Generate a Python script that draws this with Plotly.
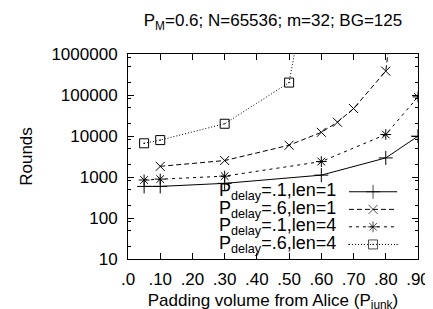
import plotly.graph_objects as go

# ---- data ----
x_p1_len1 = [0.05, 0.10, 0.30, 0.60, 0.80, 0.90]
y_p1_len1 = [590, 590, 700, 1110, 2920, 9900]

x_p6_len1 = [0.10, 0.30, 0.50, 0.60, 0.65, 0.70, 0.80, 0.90]
y_p6_len1 = [1820, 2520, 5960, 12300, 21700, 46700, 382000, 1e12]

x_p1_len4 = [0.05, 0.10, 0.30, 0.60, 0.80, 0.90]
y_p1_len4 = [845, 890, 1050, 2380, 10900, 90000]

x_p6_len4 = [0.05, 0.10, 0.30, 0.50, 0.60]
y_p6_len4 = [6640, 7950, 19900, 201000, 4e9]

series_names = [
    "P<sub>delay</sub>=.1,len=1",
    "P<sub>delay</sub>=.6,len=1",
    "P<sub>delay</sub>=.1,len=4",
    "P<sub>delay</sub>=.6,len=4",
]

x_tick_vals = [0.0, 0.1, 0.2, 0.3, 0.4, 0.5, 0.6, 0.7, 0.8, 0.9]
x_tick_text = [".0", ".10", ".20", ".30", ".40", ".50", ".60", ".70", ".80", ".90"]
y_tick_vals = [10, 100, 1000, 10000, 100000, 1000000]
y_tick_text = ["10", "100", "1000", "10000", "100000", "1000000"]

title_text = "P<sub>M</sub>=0.6; N=65536; m=32; BG=125"
x_title = "Padding volume from Alice (P<sub>junk</sub>)"
y_title = "Rounds"

# ---- styles ----
FONT = "Liberation Sans, Arial, Helvetica, sans-serif"
styles = [
    dict(dash="solid", symbol="cross-thin-open", size=10),
    dict(dash="5px,3px", symbol="x-thin-open", size=9),
    dict(dash="3px,4px", symbol="asterisk-open", size=9),
    dict(dash="1px,2px", symbol="square-open-dot", size=9),
]
data = [
    (x_p1_len1, y_p1_len1),
    (x_p6_len1, y_p6_len1),
    (x_p1_len4, y_p1_len4),
    (x_p6_len4, y_p6_len4),
]

fig = go.Figure()
for (xs, ys), st, name in zip(data, styles, series_names):
    fig.add_trace(go.Scatter(
        x=xs, y=ys, mode="lines+markers", name=name, showlegend=False,
        line=dict(color="black", width=1, dash=st["dash"]),
        marker=dict(symbol=st["symbol"], size=st["size"], color="black",
                    line=dict(color="black", width=1)),
        cliponaxis=True,
    ))

# ---- custom legend (text left, sample right, as in reference) ----
leg_rows = [0.328, 0.242, 0.157, 0.071]
for row, st, name in zip(leg_rows, styles, series_names):
    fig.add_trace(go.Scatter(
        x=[0.762, 0.845, 0.928], y=[row, row, row], mode="lines+markers",
        xaxis="x2", yaxis="y2", showlegend=False, hoverinfo="skip",
        line=dict(color="black", width=1, dash=st["dash"]),
        marker=dict(symbol=st["symbol"], size=[0, st["size"], 0], color="black",
                    line=dict(color="black", width=1)),
    ))
    fig.add_annotation(
        text=name, xref="paper", yref="paper", x=0.7226, y=row,
        xanchor="right", yanchor="middle", showarrow=False,
        font=dict(family=FONT, size=18, color="black"),
    )

axis_common = dict(
    showline=True, linecolor="black", linewidth=1, mirror="ticks",
    ticks="inside", tickcolor="black", tickwidth=1, ticklen=6,
    showgrid=False, zeroline=False,
    tickfont=dict(family=FONT, size=17, color="black"),
)

minor_vals = [m * 10 ** k for k in range(1, 6) for m in (2, 5, 8)]

fig.update_layout(
    width=433, height=309,
    margin=dict(l=120, r=11, t=46, b=53),
    paper_bgcolor="white", plot_bgcolor="white",
    font=dict(family=FONT, size=17, color="black"),
    title=dict(text=title_text, x=0.5, xref="paper", xanchor="center",
               y=0.96, yref="container", yanchor="middle",
               font=dict(family=FONT, size=17, color="black")),
    xaxis=dict(
        range=[0, 0.9], tickvals=x_tick_vals, ticktext=x_tick_text,
        ticklabelstandoff=5,
        title=dict(text=x_title, standoff=5, font=dict(family=FONT, size=17, color="black")),
        **axis_common,
    ),
    yaxis=dict(
        type="log", range=[1, 6], tickvals=y_tick_vals, ticktext=y_tick_text,
        ticklabelstandoff=6,
        minor=dict(ticks="inside", ticklen=3, tickcolor="black", tickvals=minor_vals),
        title=dict(text=y_title, standoff=14, font=dict(family=FONT, size=17, color="black")),
        **axis_common,
    ),
    xaxis2=dict(range=[0, 1], overlaying="x", visible=False, fixedrange=True),
    yaxis2=dict(range=[0, 1], overlaying="y", visible=False, fixedrange=True),
    showlegend=False,
)

fig.write_html("out.html")
